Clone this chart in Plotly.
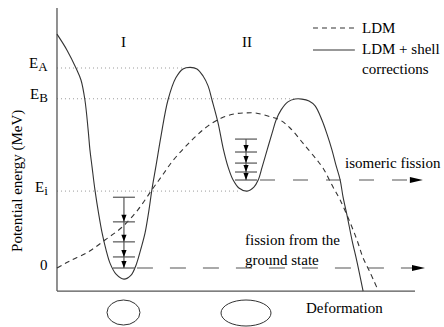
import plotly.graph_objects as go

# Deformation in arbitrary units (0 .. 1 along the axis), energy in MeV
E_A, E_B, E_I = 6.5, 5.5, 2.5

# LDM + shell corrections (double-humped barrier)
shell_x = [0.000, 0.028, 0.053, 0.067, 0.078, 0.087, 0.092, 0.098, 0.106, 0.117,
           0.126, 0.137, 0.148, 0.165, 0.187, 0.207, 0.221, 0.235, 0.246, 0.257,
           0.265, 0.277, 0.291, 0.310, 0.332, 0.352, 0.372, 0.391, 0.408, 0.422,
           0.433, 0.450, 0.464, 0.478, 0.492, 0.508, 0.531, 0.550, 0.562, 0.573,
           0.587, 0.601, 0.612, 0.626, 0.645, 0.665, 0.684, 0.704, 0.721, 0.740,
           0.754, 0.768, 0.779, 0.791, 0.799, 0.810, 0.824, 0.838, 0.855]
shell_y = [7.60, 7.08, 6.50, 6.11, 5.46, 4.49, 3.84, 3.28, 2.54, 1.72,
           1.14, 0.59, 0.16, -0.20, -0.36, -0.23, 0.10, 0.65, 1.14, 1.89,
           2.54, 3.35, 4.32, 5.46, 6.18, 6.47, 6.52, 6.47, 6.24, 5.92,
           5.46, 4.71, 3.90, 3.28, 2.86, 2.60, 2.50, 2.63, 2.86, 3.28,
           3.84, 4.39, 4.81, 5.14, 5.40, 5.49, 5.49, 5.43, 5.27, 4.81,
           4.36, 3.84, 3.35, 2.86, 2.31, 1.72, 0.91, 0.20, -0.75]

# Liquid drop model barrier
ldm_x = [0.000, 0.036, 0.087, 0.134, 0.182, 0.226, 0.265, 0.293, 0.321, 0.355,
         0.386, 0.422, 0.461, 0.497, 0.525, 0.553, 0.589, 0.623, 0.651, 0.687,
         0.726, 0.743, 0.771, 0.791, 0.818, 0.838, 0.855, 0.874, 0.894]
ldm_y = [0.00, 0.23, 0.52, 0.91, 1.33, 1.89, 2.54, 2.99, 3.45, 3.90,
         4.26, 4.62, 4.88, 5.01, 5.04, 5.04, 4.94, 4.81, 4.55, 4.06,
         3.51, 3.25, 2.63, 2.21, 1.50, 0.91, 0.33, -0.13, -0.65]

# Levels in the first (ground-state) and second (isomeric) wells
well1_x, well1_levels = 0.187, [2.30, 1.50, 0.85, 0.36, 0.00]
well2_x, well2_levels = 0.528, [4.19, 3.77, 3.41, 3.12, 2.86]

tick_vals = [0.0, E_I, E_B, E_A]
tick_text = ["0", "E<sub><span style='font-size:13px'>i</span></sub>",
             "E<sub><span style='font-size:13px'>B</span></sub>",
             "E<sub><span style='font-size:13px'>A</span></sub>"]

FONT = "Liberation Serif, Times New Roman, serif"
INK = "#333333"
GREY = "#555555"
DOT = "#9a9a9a"

# canvas scale (pixels per data unit) used for arrowheads
X0, X1 = -0.1592, 1.0810
Y0, Y1 = -1.917, 8.710
W, H = 444, 327
SX = W / (X1 - X0)
SY = H / (Y1 - Y0)
Y_FLOOR, Y_TOP = -0.75, 8.45

fig = go.Figure()


def line(x, y, color=INK, width=1.2, dash="solid", shape="linear"):
    fig.add_trace(go.Scatter(x=x, y=y, mode="lines", hoverinfo="skip",
                             line=dict(color=color, width=width, dash=dash, shape=shape),
                             showlegend=False))


def head(x, y, direction, length, half):
    if direction == "right":
        xs = [x, x - length / SX, x - length / SX, x]
        ys = [y, y + half / SY, y - half / SY, y]
    else:
        xs = [x, x - half / SX, x + half / SX, x]
        ys = [y, y + length / SY, y + length / SY, y]
    fig.add_trace(go.Scatter(x=xs, y=ys, mode="lines", fill="toself", fillcolor="black",
                             line=dict(width=0, color="black"), hoverinfo="skip",
                             showlegend=False))


# dotted reference energies
for e, xe in [(E_A, 0.3575), (E_B, 0.670), (E_I, 0.511)]:
    line([0, xe], [e, e], color=DOT, width=1, dash="1px,3px")

# axes
line([0, 0], [Y_FLOOR, Y_TOP], color=GREY, width=1.3)
line([0, 1.0], [Y_FLOOR, Y_FLOOR], color=GREY, width=1.3)

# barriers
line(ldm_x, ldm_y, color=INK, width=1.1, dash="5px,4px", shape="spline")
line(shell_x, shell_y, color=INK, width=1.1, shape="spline")

# level ladders with de-excitation arrows
for cx, levels in [(well1_x, well1_levels), (well2_x, well2_levels)]:
    hw = 11 / SX
    for lv in levels:
        line([cx - hw, cx + hw], [lv, lv], color=GREY, width=1.2)
    line([cx, cx], [levels[0], levels[-1]], color=GREY, width=1.2)
    for lv in levels[1:]:
        head(cx, lv, "down", 7, 2.6)

# fission paths
line([well1_x + 13 / SX, 0.9972], [well1_levels[-1]] * 2, color=GREY, width=1.2, dash="16px,17px")
head(1.028, well1_levels[-1], "right", 13, 3)
line([well2_x + 14 / SX, 0.9916], [well2_levels[-1]] * 2, color=GREY, width=1.2, dash="15px,18px")
head(1.022, well2_levels[-1], "right", 13, 3)

# legend samples
line([0.715, 0.838], [7.80, 7.80], color=INK, width=1.1, dash="5px,4px")
line([0.715, 0.832], [7.085, 7.085], color=INK, width=1.1)

ann = []


def text(x, y, s, size=15, xanchor="center", yanchor="middle", align="left", angle=0):
    ann.append(dict(x=x, y=y, xref="x", yref="y", text=s, showarrow=False,
                    xanchor=xanchor, yanchor=yanchor, align=align, textangle=angle,
                    font=dict(family=FONT, size=size, color="black")))


for v, t in zip(tick_vals, tick_text):
    text(-0.0196, v + 0.1, t, xanchor="right")
text(-0.109, 2.83, "Potential energy (MeV)", angle=-90)
text(0.187, 7.35, "I")
text(0.531, 7.35, "II")
text(0.8464, 7.80, "LDM", xanchor="left")
text(0.8464, 6.80, "LDM + shell<br>corrections", xanchor="left")
text(0.799, 3.41, "isomeric fission", xanchor="left")
text(0.5196, 0.58, "fission from the<br>ground state", xanchor="left")
text(0.8017, -1.30, "Deformation")

shapes = [
    dict(type="circle", xref="x", yref="y", x0=0.1397, x1=0.2318, y0=-1.852, y1=-1.04,
         line=dict(color=INK, width=1)),
    dict(type="circle", xref="x", yref="y", x0=0.4581, x1=0.5978, y0=-1.885, y1=-1.04,
         line=dict(color=INK, width=1)),
]

fig.update_layout(
    width=W, height=H, margin=dict(l=0, r=0, t=0, b=0),
    paper_bgcolor="white", plot_bgcolor="white",
    xaxis=dict(range=[X0, X1], visible=False, fixedrange=True),
    yaxis=dict(range=[Y0, Y1], visible=False, fixedrange=True),
    annotations=ann, shapes=shapes, showlegend=False,
)

fig.write_html("out.html", config={"displayModeBar": False})
